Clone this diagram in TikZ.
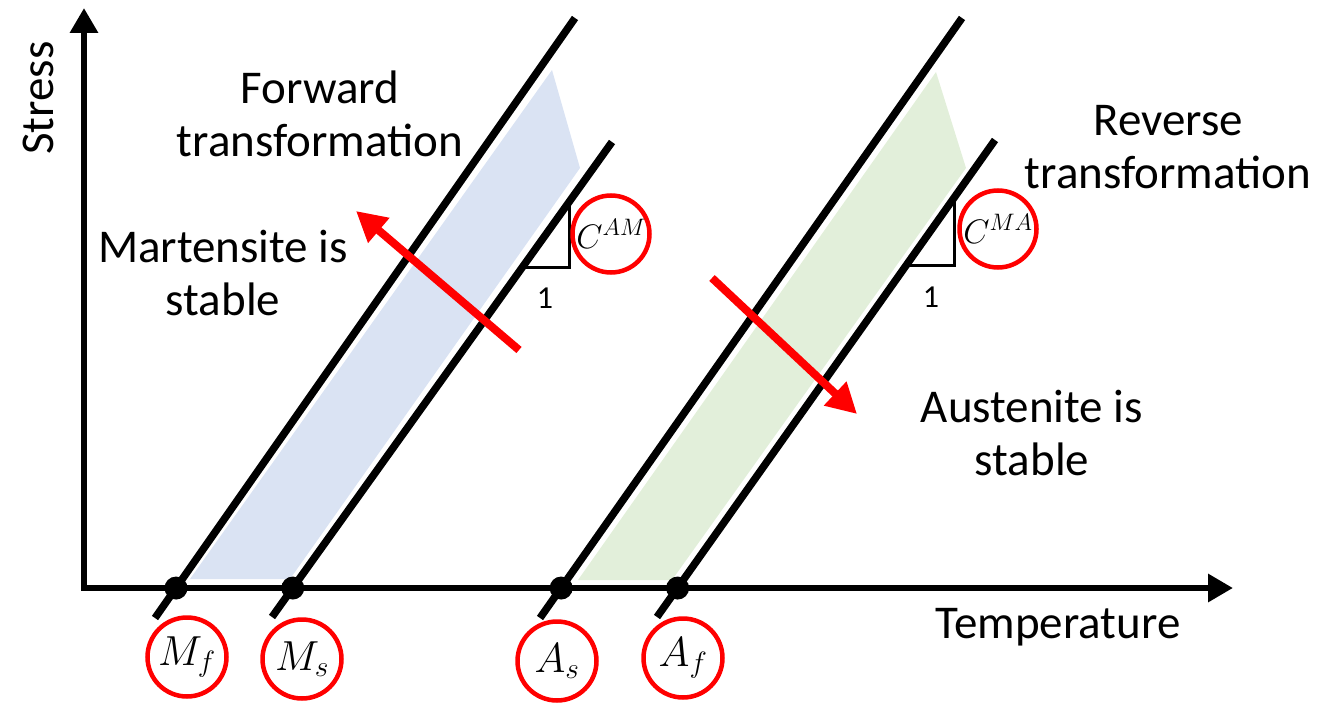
\RequirePackage{fix-cm}
\documentclass[tikz,border=0pt]{standalone}
\usepackage{fontspec}
\setmainfont{Carlito}
\usepackage{tikz}
\usetikzlibrary{arrows.meta,calc}
\definecolor{PaleBlue}{HTML}{DAE3F3}
\definecolor{PaleGreen}{HTML}{E2EFDA}
\definecolor{Signal}{HTML}{FF0000}
\tikzset{
  axisarrow/.style={line width=6.5pt, {Triangle[length=25pt,width=27pt]}-{Triangle[length=25pt,width=27pt]}},
  phaseline/.style={line width=7.5pt},
  pointdot/.style={circle, fill=black, minimum size=23pt, inner sep=0pt},
  tempmark/.style={circle, draw=Signal, line width=4.5pt, minimum size=79pt, inner sep=0pt, font=\fontsize{42}{42}\selectfont},
  slopemark/.style={circle, draw=Signal, line width=4.5pt, minimum size=77pt, inner sep=0pt, font=\fontsize{34}{34}\selectfont},
  slopebox/.style={line width=3pt},
  slopenum/.style={font=\fontsize{32}{32}\selectfont},
  redarrow/.style={draw=Signal, line width=8pt, -{Triangle[length=30pt,width=31pt]}},
  phasetext/.style={align=center, font=\fontsize{47}{53}\selectfont}
}
\begin{document}
\begin{tikzpicture}[x=1pt, y=-1pt]
  \useasboundingbox (0,0) rectangle (1320,703);

  \coordinate (O) at (84,588);
  \coordinate (xend) at (1233,588);
  \coordinate (yend) at (84,8);
  \coordinate (mfa) at (155,618);
  \coordinate (mfb) at (575,18);
  \coordinate (msa) at (272,617);
  \coordinate (msb) at (612,142);
  \coordinate (asa) at (540,618);
  \coordinate (asb) at (962,18);
  \coordinate (afa) at (657,617);
  \coordinate (afb) at (995,140);

  \fill[PaleBlue] (190,579) -- (552,70) -- (580,168) -- (290,579) -- cycle;
  \fill[PaleGreen] (578,580) -- (936,72) -- (966,168) -- (672,580) -- cycle;

  \draw[phaseline] (mfa) -- (mfb);
  \draw[phaseline] (msa) -- (msb);
  \draw[phaseline] (asa) -- (asb);
  \draw[phaseline] (afa) -- (afb);

  \draw[axisarrow] (yend) |- (xend);

  \node[pointdot] (mfdot) at (intersection of mfa--mfb and O--xend) {};
  \node[pointdot] (msdot) at (intersection of msa--msb and O--xend) {};
  \node[pointdot] (asdot) at (intersection of asa--asb and O--xend) {};
  \node[pointdot] (afdot) at (intersection of afa--afb and O--xend) {};

  \draw[slopebox] (569,203) |- (522,268);
  \draw[slopebox] (954,198) |- (906,266);
  \node[slopenum] (amone) at (545,298) {1};
  \node[slopenum] (maone) at (931,297) {1};

  \node[slopemark] (cam) at (611,234) {$C^{AM}$};
  \node[slopemark] (cma) at (998,229) {$C^{MA}$};
  \node[tempmark] (mflabel) at (187,657) {$M_f$};
  \node[tempmark] (mslabel) at (302,659) {$M_s$};
  \node[tempmark] (aslabel) at (557,661) {$A_s$};
  \node[tempmark] (aflabel) at (683,658) {$A_f$};

  \coordinate (fwdtail) at (519,350);
  \coordinate (fwdtip) at (356,211);
  \coordinate (revtail) at (712,278);
  \coordinate (revtip) at (857,414);
  \draw[redarrow] (fwdtail) -- (fwdtip);
  \draw[redarrow] (revtail) -- (revtip);

  \node[phasetext] (forward) at (320,114) {Forward\\transformation};
  \node[phasetext] (reverse) at (1168,147) {Reverse\\transformation};
  \node[phasetext] (martensite) at (223,273) {Martensite is\\stable};
  \node[phasetext] (austenite) at (1032,433) {Austenite is\\stable};
  \node[phasetext] (temperature) at (1058,627) {Temperature};
  \node[phasetext, rotate=90] (stress) at (38,98) {Stress};
\end{tikzpicture}
\end{document}
